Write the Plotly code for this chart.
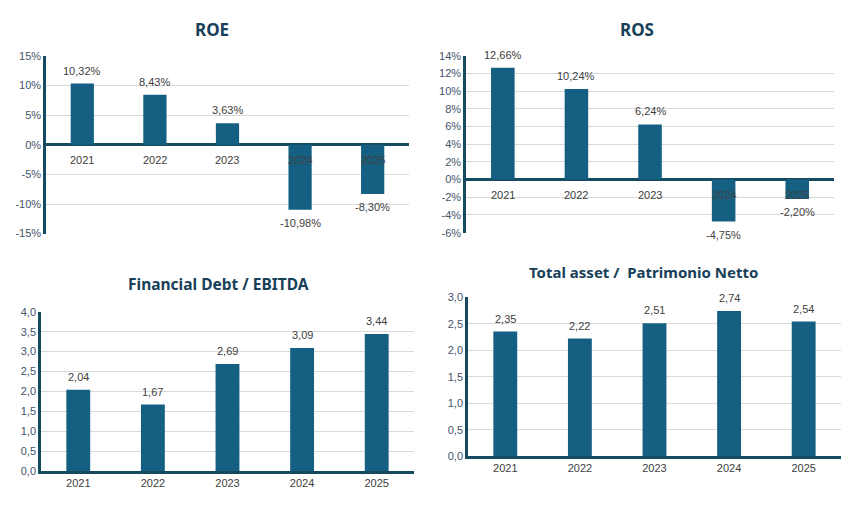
import plotly.graph_objects as go

years = ["2021", "2022", "2023", "2024", "2025"]
roe = [10.32, 8.43, 3.63, -10.98, -8.30]
ros = [12.66, 10.24, 6.24, -4.75, -2.20]
debt_ebitda = [2.04, 1.67, 2.69, 3.09, 3.44]
asset_pn = [2.35, 2.22, 2.51, 2.74, 2.54]

roe_ticks = [-15, -10, -5, 0, 5, 10, 15]
ros_ticks = [-6, -4, -2, 0, 2, 4, 6, 8, 10, 12, 14]
debt_ticks = [0, 0.5, 1, 1.5, 2, 2.5, 3, 3.5, 4]
asset_ticks = [0, 0.5, 1, 1.5, 2, 2.5, 3]

W, H = 857, 520
BAR = "#156082"
AXIS = "#154a60"
GRID = "#d9d9d9"
TXT = "#404040"
TICK = "#44546a"
TITLE = "#17405a"
FONT = "Liberation Sans, Arial, sans-serif"


def pct(v):
    return f"{v:.2f}%".replace(".", ",")


def dec(v, n):
    return f"{v:.{n}f}".replace(".", ",")


fig = go.Figure()

panels = [
    # values, text, ticks, ticktext, range, x domain, y domain, title, title x/y px, size, zero-cross
    (roe, [pct(v) for v in roe], roe_ticks, [f"{t}%" for t in roe_ticks], [-15, 15],
     [0.0537, 0.4772], [0.5519, 0.9019], "ROE", (212, 24), 17, True),
    (ros, [pct(v) for v in ros], ros_ticks, [f"{t}%" for t in ros_ticks], [-6, 14],
     [0.5438, 0.9732], [0.5538, 0.9019], "ROS", (637, 24), 17, True),
    (debt_ebitda, [dec(v, 2) for v in debt_ebitda], debt_ticks, [dec(t, 1) for t in debt_ticks], [0, 4],
     [0.0478, 0.4831], [0.0846, 0.398], "Financial Debt / EBITDA", (218, 285), 15.5, False),
    (asset_pn, [dec(v, 2) for v in asset_pn], asset_ticks, [dec(t, 1) for t in asset_ticks], [0, 3],
     [0.5461, 0.9813], [0.1135, 0.4269], "Total asset /  Patrimonio Netto", (643, 272), 15, False),
]

for i, (vals, txt, ticks, ticktext, rng, xd, yd, title, tpos, tsize, cross) in enumerate(panels, start=1):
    xa = "x" if i == 1 else f"x{i}"
    ya = "y" if i == 1 else f"y{i}"
    fig.add_trace(go.Bar(
        x=years, y=vals,
        marker=dict(color=BAR, line=dict(width=0)),
        xaxis=xa, yaxis=ya, showlegend=False,
    ))
    xkey = "xaxis" if i == 1 else f"xaxis{i}"
    ykey = "yaxis" if i == 1 else f"yaxis{i}"
    fig.layout[xkey] = dict(
        type="category", domain=xd, anchor=ya, showgrid=False, ticks="",
        range=[-0.5, len(years) - 0.5],
        showticklabels=not cross, showline=not cross, linecolor=AXIS, linewidth=2.5,
        tickfont=dict(size=11, color=TXT, family=FONT), fixedrange=True,
    )
    fig.layout[ykey] = dict(
        domain=yd, anchor=xa, range=rng, tickvals=ticks, ticktext=ticktext,
        showgrid=True, gridcolor=GRID, gridwidth=1,
        zeroline=cross, zerolinecolor=AXIS, zerolinewidth=2.5,
        showline=True, linecolor=AXIS, linewidth=2.5, ticks="",
        tickfont=dict(size=11, color=TICK, family=FONT), fixedrange=True,
    )
    fig.add_annotation(
        text=f"<b>{title}</b>", xref="paper", yref="paper",
        x=tpos[0] / W, y=1 - tpos[1] / H, xanchor="center", yanchor="middle",
        showarrow=False, font=dict(size=tsize, color=TITLE, family="Noto Sans, Lato, sans-serif"),
    )
    # value labels, a bit further from the bar ends than plotly's own outside text
    for k, (v, t) in enumerate(zip(vals, txt)):
        fig.add_annotation(
            x=k, y=v, xref=xa, yref=ya, text=t, showarrow=False,
            yanchor="bottom" if v >= 0 else "top", yshift=5 if v >= 0 else -5,
            font=dict(size=11, color=TXT, family=FONT),
        )
    if cross:
        # category labels sit on the zero line; place them by category index
        for k, yr in enumerate(years):
            fig.add_annotation(
                x=k, y=0, xref=xa, yref=ya, text=yr, showarrow=False,
                yanchor="top", yshift=-7,
                font=dict(size=11, color=TXT, family=FONT),
            )

fig.update_layout(
    autosize=True,
    margin=dict(l=0, r=0, t=0, b=0),
    paper_bgcolor="white", plot_bgcolor="white",
    bargap=0.68,
    font=dict(family=FONT, color=TXT),
)

fig.write_html(
    "out.html",
    default_width="100vw", default_height="100vh",
    config={"displayModeBar": False},
    post_script="document.body.style.margin='0';document.body.style.overflow='hidden';",
)
